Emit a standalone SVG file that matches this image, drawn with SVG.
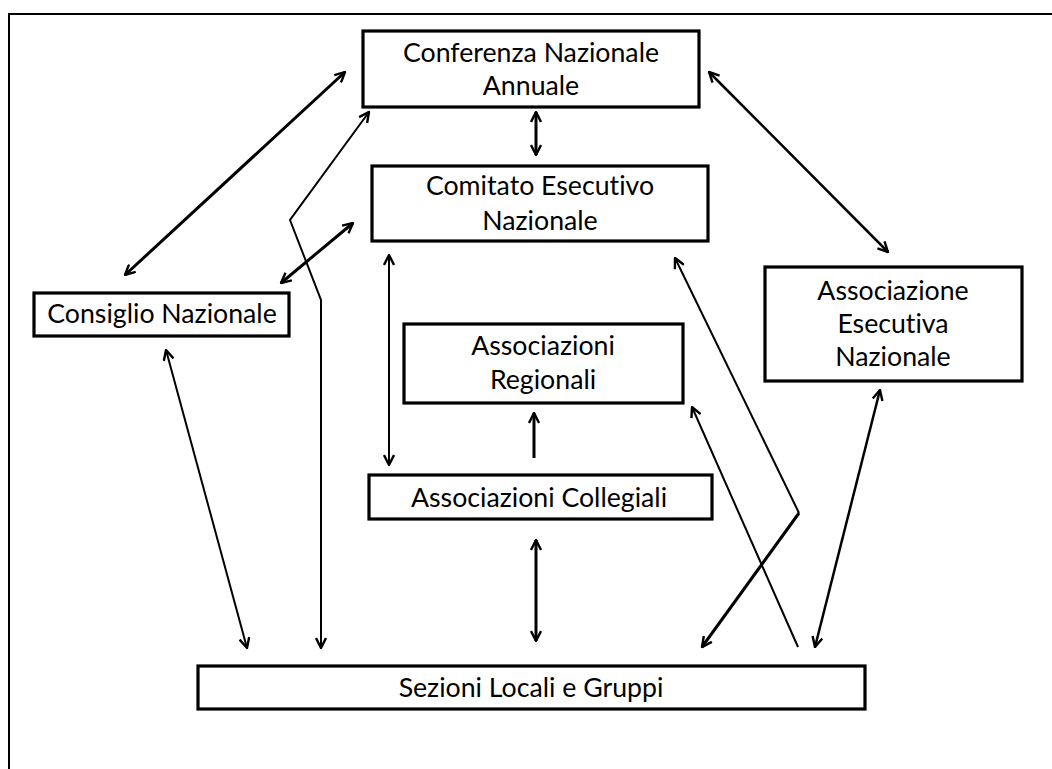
<svg xmlns="http://www.w3.org/2000/svg" width="1052" height="769" viewBox="0 0 1052 769">
<style>
.box{fill:#fff;stroke:#000;stroke-width:3.2}
.t{font-family:Lato,"Open Sans","Liberation Sans",sans-serif;font-size:26.7px;fill:#000;text-anchor:middle;font-variant-ligatures:none;font-feature-settings:"liga" 0}
.c{fill:none;stroke:#000;stroke-linejoin:miter}
.w2{stroke-width:2}
.w25{stroke-width:2.5}
.w3{stroke-width:3}
.a{marker-end:url(#ah)}
.b{marker-start:url(#ah);marker-end:url(#ah)}
</style>
<defs>
<marker id="ah" viewBox="0 0 12 12" refX="11" refY="6" markerWidth="12" markerHeight="12" markerUnits="userSpaceOnUse" orient="auto-start-reverse">
<path d="M1,1 L11,6 L1,11" fill="none" stroke="#000" stroke-width="2.4"/>
</marker>
</defs>
<rect width="1052" height="769" fill="#fff"/>
<g id="frame">
<path d="M9,14 H1052 M9,13 V769" fill="none" stroke="#000" stroke-width="2"/>
</g>
<g id="connectors">
<path class="c w3 b" d="M345,72 L125,275"/>
<path class="c w2 b" d="M369,112 L290,220 L321,300 L321,648"/>
<path class="c w3 b" d="M353,223 L281,283"/>
<path class="c w2 b" d="M389,255 L389,465"/>
<path class="c w3 b" d="M536,112 L536,155"/>
<path class="c w25 b" d="M709,72 L888,252"/>
<path class="c w3 a" d="M534,458 L534,413"/>
<path class="c w3 b" d="M536,540 L536,641"/>
<path class="c w2 b" d="M166,350 L247,648"/>
<path class="c w2 a" d="M798,647 L692,407"/>
<path class="c w2 a" d="M799,513 L675,258"/>
<path class="c w3 a" d="M799,513 L702,647"/>
<path class="c w25 b" d="M880,390 L815,647"/>
</g>
<g id="conferenza">
<rect class="box" x="363" y="31" width="336" height="76"/>
<text class="t" x="531" y="62">Conferenza Nazionale</text>
<text class="t" x="531" y="95">Annuale</text>
</g>
<g id="comitato">
<rect class="box" x="372" y="166" width="336" height="75"/>
<text class="t" x="540" y="195">Comitato Esecutivo</text>
<text class="t" x="540" y="230">Nazionale</text>
</g>
<g id="consiglio">
<rect class="box" x="34" y="293" width="255" height="43"/>
<text class="t" x="162" y="323">Consiglio Nazionale</text>
</g>
<g id="regionali">
<rect class="box" x="404" y="324" width="279" height="79"/>
<text class="t" x="543" y="355">Associazioni</text>
<text class="t" x="543" y="389">Regionali</text>
</g>
<g id="collegiali">
<rect class="box" x="369" y="475" width="343" height="44"/>
<text class="t" x="539" y="507">Associazioni Collegiali</text>
</g>
<g id="sezioni">
<rect class="box" x="198" y="666" width="667" height="43"/>
<text class="t" x="531" y="697">Sezioni Locali e Gruppi</text>
</g>
<g id="esecutiva">
<rect class="box" x="765" y="267" width="257" height="114"/>
<text class="t" x="893" y="300">Associazione</text>
<text class="t" x="893" y="333">Esecutiva</text>
<text class="t" x="893" y="366">Nazionale</text>
</g>
</svg>
